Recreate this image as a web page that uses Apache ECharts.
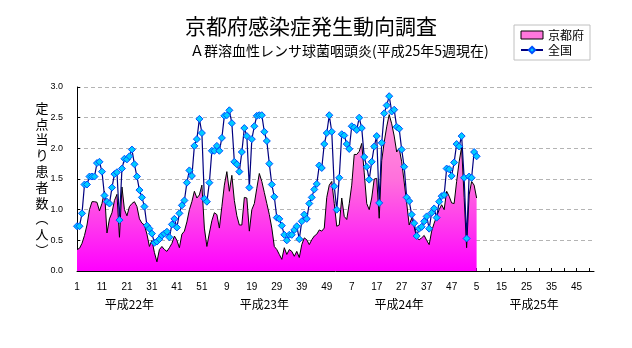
<!DOCTYPE html>
<html>
<head>
<meta charset="utf-8">
<script src="https://cdn.jsdelivr.net/npm/echarts@6/dist/echarts.min.js"></script>
<style>html,body{margin:0;padding:0;background:#fff;}#c{width:632px;height:348px;}</style>
</head>
<body>
<div id="c"></div>
<script>
// ---- data ----
const titleText = '京都府感染症発生動向調査';
const subtitleText = 'Ａ群溶血性レンサ球菌咽頭炎(平成25年5週現在)';
const yAxisName = '定点当り患者数︵人︶';
const yearNames = ['平成22年', '平成23年', '平成24年', '平成25年'];
const weeksPerYear = 52;
const seriesNames = ['京都府', '全国'];

// 京都府 (area), weekly from 平成22年1週 to 平成25年5週
const kyotoValues = [
  0.35,0.37,0.45,0.58,0.75,1.00,1.13,1.13,1.12,0.98,
  1.10,1.30,0.62,0.85,0.95,1.15,1.25,0.55,1.37,1.00,
  0.90,1.05,1.10,1.13,1.05,0.85,0.78,0.75,0.60,0.40,
  0.50,0.30,0.15,0.35,0.40,0.35,0.32,0.38,0.45,0.57,
  0.50,0.38,0.60,0.65,0.80,1.00,1.13,1.30,1.19,1.24,
  1.40,0.70,0.40,0.62,0.82,0.95,0.92,0.70,1.05,1.40,
  1.62,1.30,1.56,1.15,0.90,0.75,0.75,1.20,1.19,0.65,
  1.00,1.10,1.35,1.59,1.46,1.28,1.10,0.92,0.70,0.40,
  0.35,0.27,0.19,0.38,0.27,0.35,0.32,0.24,0.32,0.22,
  0.43,0.54,0.51,0.43,0.51,0.57,0.60,0.67,0.65,0.70,
  1.20,1.40,1.46,1.10,0.73,0.75,1.19,0.89,0.84,1.10,
  1.40,1.90,1.90,1.95,2.08,1.60,1.10,1.00,1.19,1.50,
  1.51,0.86,1.80,2.10,2.35,2.55,2.40,2.20,1.94,2.00,
  1.78,1.45,1.11,0.75,0.86,0.72,0.54,0.51,0.54,0.58,
  0.50,0.43,0.65,0.78,0.89,1.00,1.08,1.00,1.30,1.22,
  1.11,1.10,1.46,1.78,2.02,1.20,0.38,1.24,1.46,1.40,
  1.19
];

// 全国 (line)
const zenkokuValues = [
  0.73,0.73,0.94,1.41,1.41,1.54,1.54,1.54,1.76,1.78,
  1.62,1.23,1.13,1.10,1.36,1.58,1.61,0.83,1.67,1.83,
  1.82,1.87,1.98,1.74,1.54,1.32,1.20,1.05,0.74,0.69,
  0.61,0.46,0.48,0.52,0.58,0.61,0.64,0.55,0.76,0.85,
  0.71,0.94,1.07,1.15,1.44,1.64,1.55,2.04,2.15,2.48,
  2.25,1.18,1.13,1.44,1.96,1.96,2.04,1.96,2.17,2.53,
  2.54,2.62,2.41,1.78,1.74,1.62,1.94,2.33,2.20,1.36,
  2.15,2.36,2.53,2.54,2.54,2.27,2.12,1.75,1.41,1.21,
  0.87,0.85,0.74,0.59,0.50,0.59,0.59,0.67,0.73,0.52,
  0.81,0.92,0.85,1.10,1.20,1.33,1.42,1.72,1.68,2.07,
  2.25,2.54,2.27,1.38,1.00,1.52,2.23,2.21,2.07,1.99,
  2.36,2.34,2.30,2.50,2.33,1.86,1.70,1.49,1.78,2.03,
  2.20,1.11,2.09,2.57,2.70,2.85,2.60,2.63,2.35,2.32,
  1.98,1.70,1.20,1.14,0.92,0.78,0.57,0.69,0.72,0.81,
  0.89,0.69,0.95,1.02,0.87,1.13,1.22,1.24,1.67,1.66,
  1.55,1.77,2.07,2.03,2.20,1.52,0.53,1.54,1.52,1.94,
  1.87
];

// ---- build categories (week numbers for 4 years) ----
const categories = [];
for (let y = 0; y < yearNames.length; y++) {
  for (let w = 1; w <= weeksPerYear; w++) categories.push(String(w));
}
// where each year caption sits along the week axis
const yearCaptionAt = {21: 0, 75: 1, 129: 2, 183: 3};

const FONT = "'Liberation Sans','Noto Sans CJK JP',sans-serif";
const CJK = "'Noto Sans CJK JP',sans-serif";

const chart = echarts.init(document.getElementById('c'), null, {renderer: 'canvas'});
chart.setOption({
  backgroundColor: '#fff',
  animation: false,
  title: [
    {text: titleText, left: 180, top: 11, padding: 5,
     textStyle: {fontSize: 21, fontWeight: 'normal', color: '#000', fontFamily: CJK}},
    {text: subtitleText, left: 185, top: 39, padding: 5,
     textStyle: {fontSize: 14, fontWeight: 'normal', color: '#000', fontFamily: CJK}}
  ],
  legend: {
    orient: 'vertical', left: 514, top: 25,
    borderColor: '#c0c0c0', borderWidth: 1, padding: [4, 6, 4, 6],
    itemGap: 3, itemWidth: 22, itemHeight: 8,
    textStyle: {fontSize: 12, color: '#000', fontFamily: CJK},
    data: [
      {name: seriesNames[0], icon: 'rect', itemStyle: {color: '#ff77dd', borderColor: '#000', borderWidth: 1}},
      {name: seriesNames[1]}
    ]
  },
  grid: {left: 77, right: 38, top: 87, bottom: 77},
  xAxis: [
    {
      type: 'category', data: categories, boundaryGap: false,
      axisLine: {lineStyle: {color: '#000', width: 1}},
      axisTick: {show: true, interval: 4, inside: true, length: 3, lineStyle: {color: '#000'}},
      axisLabel: {interval: 9, margin: 11, fontSize: 10, color: '#000', fontFamily: FONT},
      splitLine: {show: false}
    },
    {
      type: 'category', data: categories, boundaryGap: false, position: 'bottom', offset: 0,
      axisLine: {show: false}, axisTick: {show: false}, splitLine: {show: false},
      axisLabel: {interval: 0, margin: 27, fontSize: 12, color: '#000', fontFamily: CJK,
        formatter: (v, i) => (yearCaptionAt[i] !== undefined ? yearNames[yearCaptionAt[i]] : '')}
    }
  ],
  yAxis: {
    type: 'value', min: 0, max: 3, interval: 0.5,
    name: yAxisName.split('').join('\n'),
    nameLocation: 'middle', nameRotate: 0, nameGap: 35, nameMoveOverlap: false,
    nameTextStyle: {fontSize: 13, lineHeight: 15.8, color: '#000', fontFamily: CJK, align: 'center', padding: [0, 0, 14, 0]},
    axisLine: {show: true, lineStyle: {color: '#000', width: 1}},
    axisTick: {show: true, inside: true, length: 3, lineStyle: {color: '#000'}},
    axisLabel: {margin: 14, fontSize: 9, color: '#000', fontFamily: FONT, formatter: v => v.toFixed(1)},
    splitLine: {show: true, lineStyle: {color: '#b4b4b4', type: [4, 3], width: 1}}
  },
  series: [
    {
      name: seriesNames[0], type: 'line', data: kyotoValues, symbol: 'none', z: 2,
      lineStyle: {color: '#000', width: 1},
      itemStyle: {color: '#ff77dd'},
      areaStyle: {
        opacity: 1,
        color: new echarts.graphic.LinearGradient(0, 87, 0, 271, [
          {offset: 0, color: '#ffa8dc'},
          {offset: 0.5, color: '#ff70dc'},
          {offset: 1, color: '#ff00ff'}
        ], true)
      }
    },
    {
      name: seriesNames[1], type: 'line', data: zenkokuValues, z: 3,
      symbol: 'diamond', symbolSize: 7, showAllSymbol: true,
      lineStyle: {color: '#000080', width: 1.2},
      itemStyle: {color: '#00ccff', borderColor: '#0050ff', borderWidth: 1}
    }
  ]
});
</script>
</body>
</html>
